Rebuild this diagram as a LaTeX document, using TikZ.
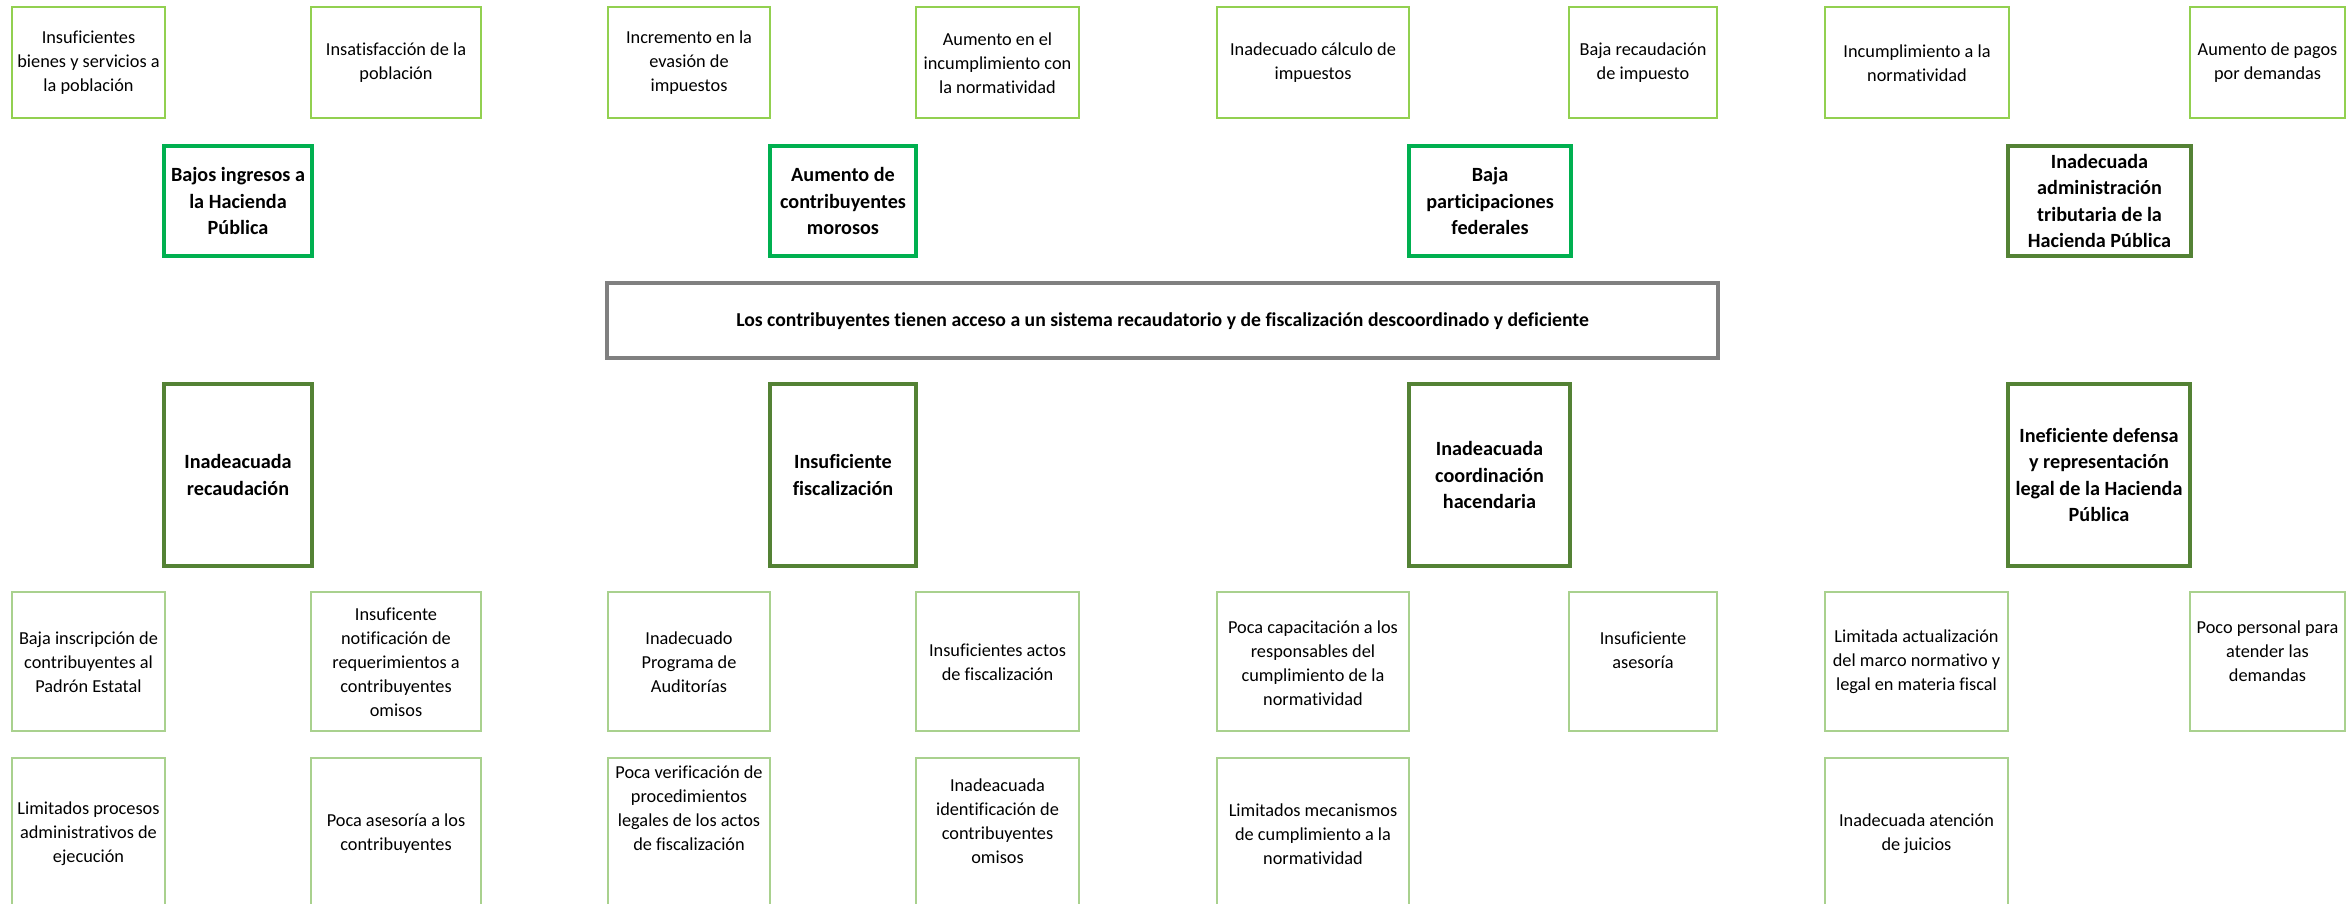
\documentclass[tikz,border=0pt]{standalone}
\usepackage{fontspec}
\setmainfont{Carlito}[Ligatures=NoCommon]
\definecolor{topgreen}{HTML}{92D050}
\definecolor{brightgreen}{HTML}{00B050}
\definecolor{olivegreen}{HTML}{548235}
\definecolor{lowgreen}{HTML}{A9D18E}
\definecolor{framegray}{HTML}{808080}
\newcommand\boxat[6]{\node[#2, minimum width={(#5-#3)*1pt}, minimum height={(#6-#4)*1pt}] (#1) at ({(#3+#5)/2},{(#4+#6)/2}) {};}
\begin{document}
\begin{tikzpicture}[x=1pt,y=-1pt,
 box/.style={rectangle, inner sep=0pt, outer sep=0pt, fill=white},
 topbox/.style={box, draw=topgreen, line width=2.5pt},
 lowbox/.style={box, draw=lowgreen, line width=2.5pt},
 effbox/.style={box, draw=brightgreen, line width=4pt},
 olivebox/.style={box, draw=olivegreen, line width=4pt},
 probbox/.style={box, draw=framegray, line width=4pt},
 rtxt/.style={align=center, inner sep=0pt, font=\fontsize{18.3}{24}\selectfont},
 btxt/.style={align=center, inner sep=0pt, font=\bfseries\fontsize{20.2}{26.5}\selectfont},
 ptxt/.style={align=center, inner sep=0pt, font=\bfseries\fontsize{19.7}{26}\selectfont}]
\useasboundingbox (0,0) rectangle (2352,904);
\fill[white] (0,0) rectangle (2352,904);
\clip (0,0) rectangle (2352,904);

% top row (effects)
\boxat{e1}{topbox}{12}{7}{165}{118}
\boxat{e2}{topbox}{311}{7}{481}{118}
\boxat{e3}{topbox}{608}{7}{770}{118}
\boxat{e4}{topbox}{916}{7}{1079}{118}
\boxat{e5}{topbox}{1217}{7}{1409}{118}
\boxat{e6}{topbox}{1569}{7}{1717}{118}
\boxat{e7}{topbox}{1825}{7}{2009}{118}
\boxat{e8}{topbox}{2190}{7}{2345}{118}
\node[rtxt] (e1t) at (e1.center |- 0,63) {Insuficientes\\bienes y servicios a\\la población};
\node[rtxt] (e2t) at (e2.center |- 0,63) {Insatisfacción de la\\población};
\node[rtxt] (e3t) at (e3.center |- 0,63) {Incremento en la\\evasión de\\impuestos};
\node[rtxt] (e4t) at (e4.center |- 0,63) {Aumento en el\\incumplimiento con\\la normatividad};
\node[rtxt] (e5t) at (e5.center |- 0,63) {Inadecuado cálculo de\\impuestos};
\node[rtxt] (e6t) at (e6.center |- 0,63) {Baja recaudación\\de impuesto};
\node[rtxt] (e7t) at (e7.center |- 0,63) {Incumplimiento a la\\normatividad};
\node[rtxt] (e8t) at (e8.center |- 0,63) {Aumento de pagos\\por demandas};

% upper bold boxes
\boxat{u1}{effbox}{164}{146}{312}{256}
\boxat{u2}{effbox}{770}{146}{916}{256}
\boxat{u3}{effbox}{1409}{146}{1571}{256}
\boxat{u4}{olivebox}{2008}{146}{2191}{256}
\node[btxt] (u1t) at (u1) {Bajos ingresos a\\la Hacienda\\Pública};
\node[btxt] (u2t) at (u2) {Aumento de\\contribuyentes\\morosos};
\node[btxt] (u3t) at (u3) {Baja\\participaciones\\federales};
\node[btxt] (u4t) at (u4) {Inadecuada\\administración\\tributaria de la\\Hacienda Pública};

% central problem
\boxat{p}{probbox}{607}{283}{1718}{358}
\node[ptxt] (pt) at (p.center |- 0,321) {Los contribuyentes tienen acceso a un sistema recaudatorio y de fiscalización descoordinado y deficiente};

% lower bold boxes (causes)
\boxat{d1}{olivebox}{164}{384}{312}{566}
\boxat{d2}{olivebox}{770}{384}{916}{566}
\boxat{d3}{olivebox}{1409}{384}{1570}{566}
\boxat{d4}{olivebox}{2008}{384}{2190}{566}
\node[btxt] (d1t) at (d1) {Inadeacuada\\recaudación};
\node[btxt] (d2t) at (d2) {Insuficiente\\fiscalización};
\node[btxt] (d3t) at (d3) {Inadeacuada\\coordinación\\hacendaria};
\node[btxt] (d4t) at (d4) {Ineficiente defensa\\y representación\\legal de la Hacienda\\Pública};

% row A
\boxat{a1}{lowbox}{12}{592}{165}{731}
\boxat{a2}{lowbox}{311}{592}{481}{731}
\boxat{a3}{lowbox}{608}{592}{770}{731}
\boxat{a4}{lowbox}{916}{592}{1079}{731}
\boxat{a5}{lowbox}{1217}{592}{1409}{731}
\boxat{a6}{lowbox}{1569}{592}{1717}{731}
\boxat{a7}{lowbox}{1825}{592}{2008}{731}
\boxat{a8}{lowbox}{2190}{592}{2345}{731}
\node[rtxt] (a1t) at (a1.center |- 0,662) {Baja inscripción de\\contribuyentes al\\Padrón Estatal};
\node[rtxt] (a2t) at (a2.center |- 0,662) {Insuficente\\notificación de\\requerimientos a\\contribuyentes\\omisos};
\node[rtxt] (a3t) at (a3.center |- 0,662) {Inadecuado\\Programa de\\Auditorías};
\node[rtxt] (a4t) at (a4.center |- 0,662) {Insuficientes actos\\de fiscalización};
\node[rtxt] (a5t) at (a5.center |- 0,663) {Poca capacitación a los\\responsables del\\cumplimiento de la\\normatividad};
\node[rtxt] (a6t) at (a6.center |- 0,650) {Insuficiente\\asesoría};
\node[rtxt] (a7t) at (a7.center |- 0,662) {Limitada actualización\\del marco normativo y\\legal en materia fiscal};
\node[rtxt] (a8t) at (a8.center |- 0,651) {Poco personal para\\atender las\\demandas};

% row B
\boxat{b1}{lowbox}{12}{758}{165}{912}
\boxat{b2}{lowbox}{311}{758}{481}{912}
\boxat{b3}{lowbox}{608}{758}{770}{912}
\boxat{b4}{lowbox}{916}{758}{1079}{912}
\boxat{b5}{lowbox}{1217}{758}{1409}{912}
\boxat{b7}{lowbox}{1825}{758}{2008}{912}
\node[rtxt] (b1t) at (b1.center |- 0,834) {Limitados procesos\\administrativos de\\ejecución};
\node[rtxt] (b2t) at (b2.center |- 0,834) {Poca asesoría a los\\contribuyentes};
\node[rtxt] (b3t) at (b3.center |- 0,808) {Poca verificación de\\procedimientos\\legales de los actos\\de fiscalización};
\node[rtxt] (b4t) at (b4.center |- 0,821) {Inadeacuada\\identificación de\\contribuyentes\\omisos};
\node[rtxt] (b5t) at (b5.center |- 0,834) {Limitados mecanismos\\de cumplimiento a la\\normatividad};
\node[rtxt] (b7t) at (b7.center |- 0,834) {Inadecuada atención\\de juicios};
\end{tikzpicture}
\end{document}
